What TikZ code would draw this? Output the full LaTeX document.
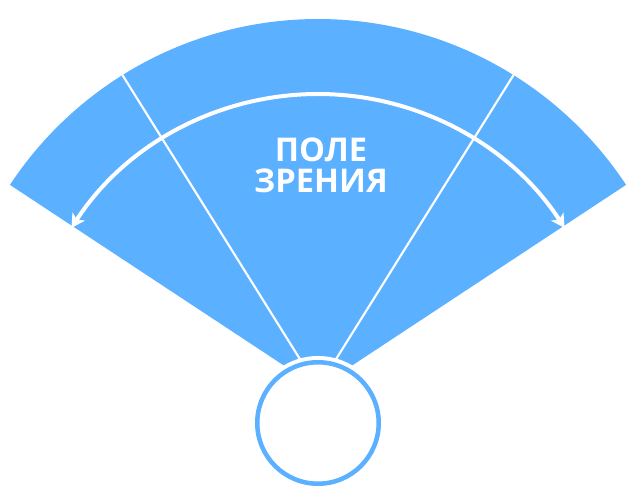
\documentclass[tikz,border=0pt]{standalone}
\usepackage{fontspec}
\setmainfont{Open Sans}
\usepackage{tikz}
\usetikzlibrary{arrows.meta}
\definecolor{fanblue}{RGB}{91,176,255}

\tikzset{
  divider/.style={white,line width=1.6pt},
  sweep/.style={white,line width=3pt,
    {Stealth[length=10pt,width=11pt,inset=2.5pt]}-{Stealth[length=10pt,width=11pt,inset=2.5pt]}},
  eyeball/.style={circle,draw=fanblue,fill=white,line width=3.4pt,minimum size=91.1pt,inner sep=0pt}
}

\begin{document}
\begin{tikzpicture}[x=0.75pt,y=0.75pt]
  \useasboundingbox (-318,-115) rectangle (318,388);

  \fill[fanblue] (0,0) -- (33.4:369) arc[start angle=33.4,end angle=146.6,radius=369] -- cycle;
  \draw[divider] (0,0) -- (58:369);
  \draw[divider] (0,0) -- (122:369);
  \draw[sweep] (147:294) arc[start angle=147,end angle=33,radius=294];

  \fill[white] (0,-35) circle[radius=67];
  \node[eyeball] (eye) at (0,-35) {};

  \node[text=white,font=\bfseries\fontsize{24.5}{23.3}\selectfont,align=center,inner sep=0pt] (label) at (3,223) {ПОЛЕ\\ЗРЕНИЯ};
\end{tikzpicture}
\end{document}
